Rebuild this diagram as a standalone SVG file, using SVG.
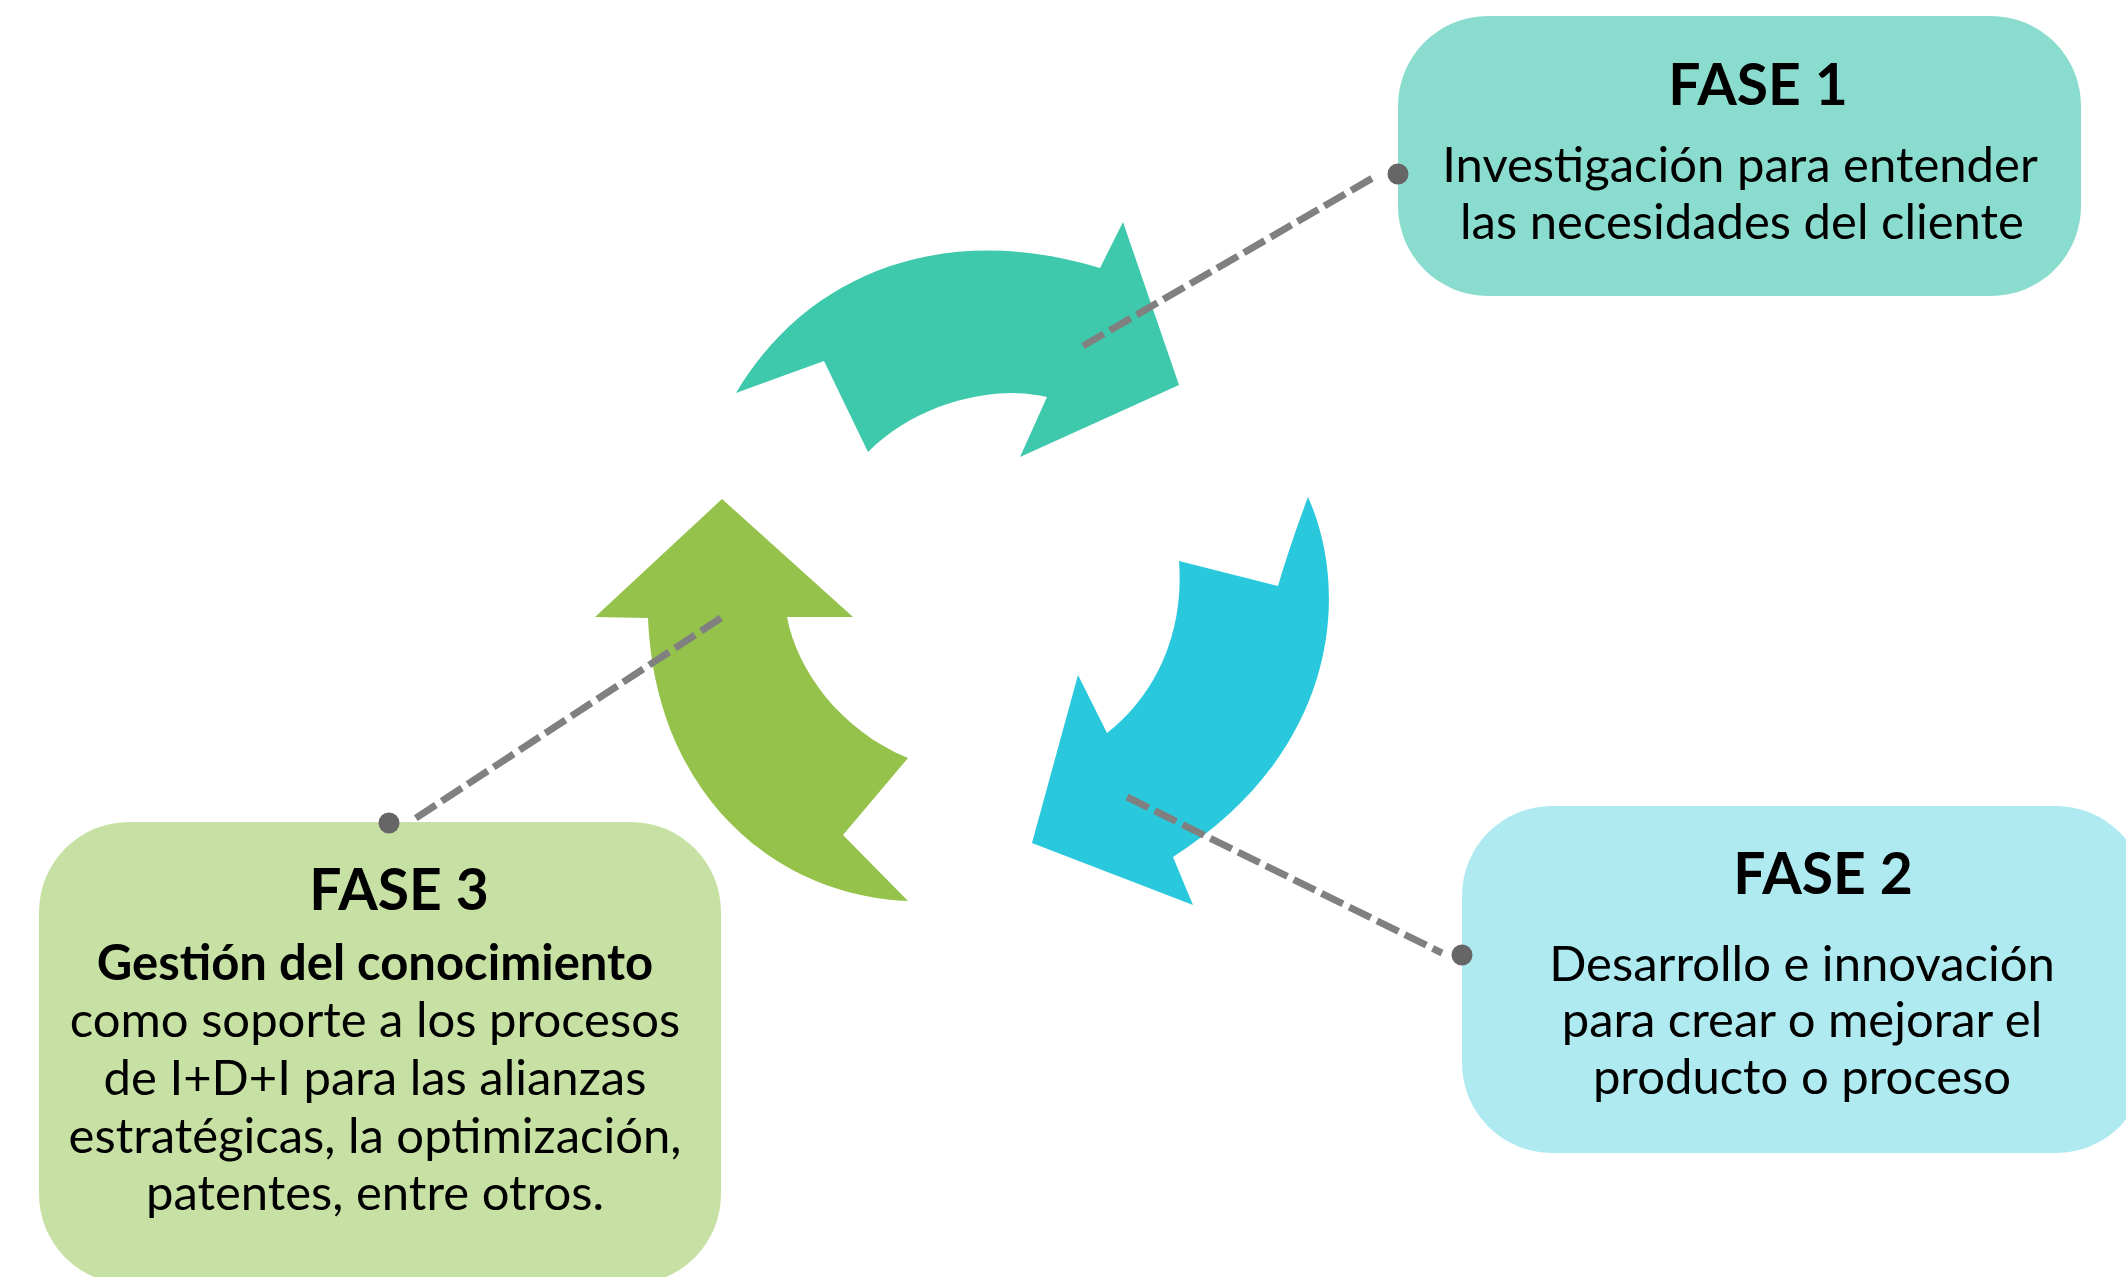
<svg xmlns="http://www.w3.org/2000/svg" width="2126" height="1277" viewBox="0 0 2126 1277">
<style>
  .title { font-family: Lato, "Open Sans", "Liberation Sans", sans-serif; font-weight: 700; font-size: 57px; fill: #000; text-anchor: middle; }
  .body { font-family: Lato, "Open Sans", "Liberation Sans", sans-serif; font-weight: 400; font-size: 49px; fill: #000; text-anchor: middle; }
  .bold { font-weight: 700; }
  .dash { stroke: #808080; stroke-width: 7; stroke-dasharray: 24 7; fill: none; }
  .dot { fill: #666666; }
</style>
<rect width="2126" height="1277" fill="#ffffff"/>
<g id="arrow-fase1">
  <path d="M736,393 C810,268 950,222 1100,268 L1123,222 L1179,385 L1020,457 L1047,397 C1000,385 920,400 868,452 L824,361 Z" fill="#3EC8AC"/>
</g>
<g id="arrow-fase2">
  <path d="M1308,497 C1350,590 1340,750 1173,857 L1193,905 L1032,843 L1078,675 L1107,733 C1150,700 1185,640 1179,561 L1278,586 Q1290,545 1308,497 Z" fill="#2AC8DC"/>
</g>
<g id="arrow-fase3">
  <path d="M722,499 L853,617 L787,617 C797,670 840,730 908,758 L843,835 L908,901 C770,895 655,790 648,618 L595,617 Z" fill="#94C24A"/>
</g>
<g id="fase1">
  <rect x="1398" y="16" width="683" height="280" rx="90" ry="90" fill="#8ADDCE"/>
  <text class="title" x="1758" y="105">FASE 1</text>
  <text class="body" x="1740" y="182">Investigación para entender</text>
  <text class="body" x="1742" y="239">las necesidades del cliente</text>
</g>
<g id="fase2">
  <rect x="1462" y="806" width="684" height="347" rx="90" ry="90" fill="#AEEAF0"/>
  <text class="title" x="1823" y="894">FASE 2</text>
  <text class="body" x="1802" y="981">Desarrollo e innovación</text>
  <text class="body" x="1802" y="1037">para crear o mejorar el</text>
  <text class="body" x="1802" y="1094">producto o proceso</text>
</g>
<g id="fase3">
  <rect x="39" y="822" width="682" height="462" rx="90" ry="90" fill="#C7E0A3"/>
  <text class="title" x="399" y="910">FASE 3</text>
  <text class="body bold" x="375" y="980">Gestión del conocimiento</text>
  <text class="body" x="375" y="1037">como soporte a los procesos</text>
  <text class="body" x="375" y="1095">de I+D+I para las alianzas</text>
  <text class="body" x="375" y="1153">estratégicas, la optimización,</text>
  <text class="body" x="375" y="1210">patentes, entre otros.</text>
</g>
<g id="connectors">
  <line class="dash" x1="1083" y1="346" x2="1376" y2="176"/>
  <circle class="dot" cx="1398" cy="174" r="10.5"/>
  <line class="dash" x1="1127" y1="797" x2="1442" y2="953"/>
  <circle class="dot" cx="1462" cy="955" r="10.5"/>
  <line class="dash" x1="721" y1="618" x2="410" y2="822"/>
  <circle class="dot" cx="389" cy="823" r="10.5"/>
</g>
</svg>
